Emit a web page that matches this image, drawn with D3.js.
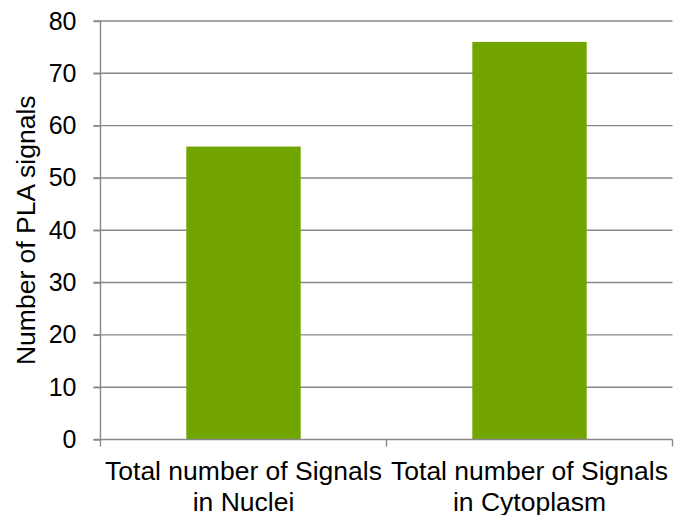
<!DOCTYPE html>
<html>
<head>
<meta charset="utf-8">
<script src="https://cdn.jsdelivr.net/npm/d3@7"></script>
<style>
  html, body { margin: 0; padding: 0; background: #fff; }
  svg { display: block; }
  text { font-family: "Liberation Sans", Arial, sans-serif; fill: #000; }
</style>
</head>
<body>
<svg id="chart" width="675" height="515"></svg>
<script>
// PLA signal counts by cell compartment
const categories = [
  ["Total number of Signals", "in Nuclei"],
  ["Total number of Signals", "in Cytoplasm"]
];
const values = [56, 76];
const yTicks = [0, 10, 20, 30, 40, 50, 60, 70, 80];
const yTitle = "Number of PLA signals";

const W = 675, H = 515;
const margin = { top: 21, right: 2.5, bottom: 75.5, left: 100.5 };
const svg = d3.select("#chart");
const innerW = W - margin.left - margin.right;
const innerH = H - margin.top - margin.bottom;

const g = svg.append("g").attr("transform", `translate(${margin.left},${margin.top})`);

const x = d3.scaleBand()
  .domain(d3.range(values.length))
  .range([0, innerW])
  .paddingInner(0.6)
  .paddingOuter(0.3);

const y = d3.scaleLinear().domain([0, 80]).range([innerH, 0]);

const axisColor = "#888888";

// horizontal gridlines with left tick marks
g.append("g")
  .selectAll("line")
  .data(yTicks.filter(d => d > 0))
  .join("line")
  .attr("x1", -7).attr("x2", innerW)
  .attr("y1", d => y(d)).attr("y2", d => y(d))
  .attr("stroke", axisColor).attr("stroke-width", 1.4);

// bars
g.append("g")
  .selectAll("rect")
  .data(values)
  .join("rect")
  .attr("x", (d, i) => x(i))
  .attr("width", x.bandwidth())
  .attr("y", d => y(d))
  .attr("height", d => innerH - y(d))
  .attr("fill", "#72a500");

// y axis
const yAxis = g.append("g")
  .call(d3.axisLeft(y).tickValues(yTicks).tickSize(7).tickPadding(17).tickFormat(d3.format("d")));
yAxis.select(".domain").attr("stroke", axisColor).attr("stroke-width", 1.4).attr("d", `M0,${innerH}V0`);
yAxis.selectAll(".tick line").attr("stroke", axisColor).attr("stroke-width", 1.4);
yAxis.selectAll(".tick text").attr("font-size", 25).attr("fill", "#000")
  .style("font-family", "'Liberation Sans', Arial, sans-serif");

// x axis: baseline plus tick marks at band boundaries
const xBase = g.append("g").attr("transform", `translate(0,${innerH})`);
xBase.append("line")
  .attr("x1", -7).attr("x2", innerW)
  .attr("stroke", axisColor).attr("stroke-width", 1.4);
const bounds = [0, innerW / 2, innerW];
xBase.selectAll("line.tk")
  .data(bounds)
  .join("line")
  .attr("class", "tk")
  .attr("x1", d => d).attr("x2", d => d)
  .attr("y1", 0).attr("y2", 7)
  .attr("stroke", axisColor).attr("stroke-width", 1.4);

// category labels, two lines each
const labels = xBase.selectAll("text.cat")
  .data(categories)
  .join("text")
  .attr("class", "cat")
  .attr("text-anchor", "middle")
  .attr("font-size", 26.5)
  .attr("transform", (d, i) => `translate(${x(i) + x.bandwidth() / 2},0)`);
labels.selectAll("tspan")
  .data(d => d)
  .join("tspan")
  .attr("x", 0)
  .attr("y", (d, i) => 40 + i * 31)
  .text(d => d);

// y axis title
svg.append("text")
  .attr("transform", `translate(35,${margin.top + innerH / 2}) rotate(-90)`)
  .attr("text-anchor", "middle")
  .attr("font-size", 26.5)
  .text(yTitle);
</script>
</body>
</html>
